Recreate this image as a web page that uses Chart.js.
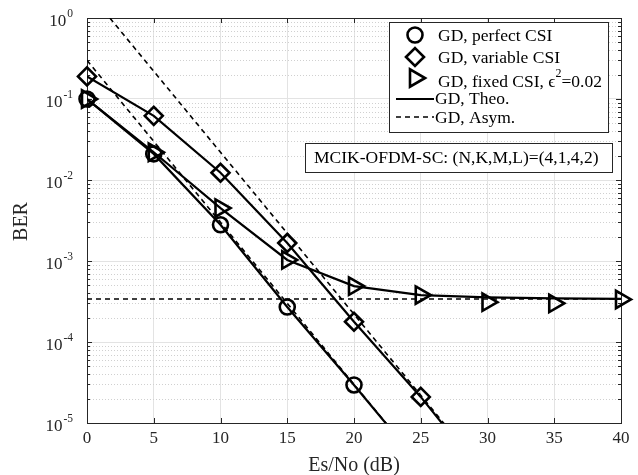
<!DOCTYPE html>
<html>
<head>
<meta charset="utf-8">
<script src="https://cdn.jsdelivr.net/npm/chart.js@4.4.1/dist/chart.umd.min.js"></script>
<style>
  html, body { margin: 0; padding: 0; background: #fff; }
  canvas { display: block; }
</style>
</head>
<body>
<canvas id="berChart" width="638" height="475"></canvas>
<script>
// Es/No points (dB)
const snrDb = [0, 5, 10, 15, 20, 25, 30, 35, 40];
const xTicks = [0, 5, 10, 15, 20, 25, 30, 35, 40];
const yTicks = [1e-5, 1e-4, 1e-3, 1e-2, 1e-1, 1];
const yExp = ['-5', '-4', '-3', '-2', '-1', '0'];

// simulation markers
const perfectSim = [0.1, 0.021, 2.8e-3, 2.7e-4, 2.95e-5];
const variableSim = [0.19, 0.062, 0.0123, 1.67e-3, 1.78e-4, 2.1e-5];
const fixedSim = [0.1, 0.022, 4.5e-3, 1.03e-3, 4.9e-4, 3.8e-4, 3.1e-4, 3.0e-4, 3.35e-4];

// theory curves
const perfectTheo = [0.1, 0.021, 2.8e-3, 2.7e-4, 2.95e-5, 3e-6];
const variableTheo = [0.19, 0.062, 0.0123, 1.67e-3, 1.78e-4, 2.1e-5, 2e-6];
const fixedTheo = [0.1, 0.022, 4.5e-3, 1.03e-3, 4.9e-4, 3.8e-4, 3.55e-4, 3.45e-4, 3.4e-4];

// asymptotes
const perfectAsym = [0.3, 0.03, 3e-3, 3e-4, 3e-5, 3e-6];
const variableAsym = [2.2, 0.22, 0.022, 2.2e-3, 2.2e-4, 2.2e-5, 2.2e-6];
const fixedAsym = [3.4e-4, 3.4e-4, 3.4e-4, 3.4e-4, 3.4e-4, 3.4e-4, 3.4e-4, 3.4e-4, 3.4e-4];

const FONT = '"Liberation Serif", "Times New Roman", serif';
const TXT = '#262626';

const pts = vals => vals.map((v, i) => ({x: snrDb[i], y: v}));

const theo = (data) => ({data: pts(data), borderColor: '#000', borderWidth: 2.2, pointRadius: 0, tension: 0, fill: false});
const asym = (data) => ({data: pts(data), borderColor: '#000', borderWidth: 1.6, borderDash: [5, 4], pointRadius: 0, tension: 0, fill: false});
const sim = (data, style, r, rot) => ({
	data: pts(data), showLine: false, clip: false,
	pointStyle: style, pointRadius: r, pointRotation: rot || 0,
	pointBorderWidth: 2.6, pointBorderColor: '#000', pointBackgroundColor: 'rgba(0,0,0,0)'
});

const markers = [
	{label: 'GD, perfect CSI', style: 'circle', r: 7.5, rot: 0, y: 35},
	{label: 'GD, variable CSI', style: 'rectRot', r: 9, rot: 0, y: 57},
	{label: 'GD, fixed CSI, ', style: 'triangle', r: 10, rot: 90, y: 78}
];

const decor = {
	id: 'decor',
	beforeDatasetsDraw(chart) {
		const {ctx, chartArea: a, scales: {x, y}} = chart;
		ctx.save();
		// dotted minor grid
		ctx.strokeStyle = '#d0d0d0';
		ctx.lineWidth = 1;
		ctx.setLineDash([1, 2]);
		for (let k = -5; k < 0; k++) {
			for (let m = 2; m <= 9; m++) {
				const py = Math.round(y.getPixelForValue(m * Math.pow(10, k))) + 0.5;
				ctx.beginPath(); ctx.moveTo(a.left, py); ctx.lineTo(a.right, py); ctx.stroke();
			}
		}
		ctx.setLineDash([]);
		// axes box + ticks
		ctx.strokeStyle = TXT;
		ctx.lineWidth = 1;
		ctx.strokeRect(a.left + 0.5, a.top + 0.5, a.right - a.left, a.bottom - a.top);
		ctx.beginPath();
		xTicks.forEach(v => {
			const px = Math.round(x.getPixelForValue(v)) + 0.5;
			ctx.moveTo(px, a.bottom); ctx.lineTo(px, a.bottom - 5);
			ctx.moveTo(px, a.top); ctx.lineTo(px, a.top + 5);
		});
		for (let k = -5; k <= 0; k++) {
			for (let m = 1; m <= 9; m++) {
				if (k === 0 && m > 1) break;
				const py = Math.round(y.getPixelForValue(m * Math.pow(10, k))) + 0.5;
				const len = m === 1 ? 5 : 3;
				ctx.moveTo(a.left, py); ctx.lineTo(a.left + len, py);
				ctx.moveTo(a.right, py); ctx.lineTo(a.right - len, py);
			}
		}
		ctx.stroke();
		ctx.restore();
	},
	afterDatasetsDraw(chart) {
		const {ctx, chartArea: a, scales: {x, y}} = chart;
		ctx.save();
		ctx.fillStyle = TXT;
		// x tick labels
		ctx.font = '17px ' + FONT;
		ctx.textAlign = 'center';
		ctx.textBaseline = 'middle';
		xTicks.forEach(v => ctx.fillText(String(v), x.getPixelForValue(v), 439));
		// y tick labels 10^k
		yTicks.forEach((v, i) => {
			const py = y.getPixelForValue(v);
			ctx.font = '11.5px ' + FONT;
			const ew = ctx.measureText(yExp[i]).width;
			ctx.textAlign = 'right';
			ctx.fillText(yExp[i], 73, py - 4);
			ctx.font = '17px ' + FONT;
			ctx.fillText('10', 73 - ew - 1, py + 3.5);
		});
		// axis titles
		ctx.font = '20px ' + FONT;
		ctx.textAlign = 'center';
		ctx.fillText('Es/No (dB)', (a.left + a.right) / 2, 466);
		ctx.save();
		ctx.translate(22, (a.top + a.bottom) / 2 + 1);
		ctx.rotate(-Math.PI / 2);
		ctx.fillText('BER', 0, 0);
		ctx.restore();

		// legend
		ctx.fillStyle = '#fff';
		ctx.fillRect(389, 22, 219, 110);
		ctx.strokeStyle = TXT;
		ctx.lineWidth = 1;
		ctx.strokeRect(389.5, 22.5, 219, 110);
		ctx.strokeStyle = '#000';
		ctx.lineWidth = 2.6;
		ctx.fillStyle = 'rgba(0,0,0,0)';
		markers.forEach(mk => {
			Chart.helpers.drawPoint(ctx, {pointStyle: mk.style, radius: mk.r, rotation: mk.rot, borderWidth: 2.6}, 415, mk.y);
		});
		ctx.lineWidth = 2.2;
		ctx.beginPath(); ctx.moveTo(396, 99); ctx.lineTo(434, 99); ctx.stroke();
		ctx.lineWidth = 1.6;
		ctx.setLineDash([5, 4]);
		ctx.beginPath(); ctx.moveTo(396, 117); ctx.lineTo(434, 117); ctx.stroke();
		ctx.setLineDash([]);
		ctx.fillStyle = '#000';
		ctx.font = '17.5px ' + FONT;
		ctx.textAlign = 'left';
		ctx.textBaseline = 'middle';
		ctx.fillText(markers[0].label, 438, 36);
		ctx.fillText(markers[1].label, 438, 58);
		let tx = 438;
		const ty = 82;
		ctx.fillText(markers[2].label, tx, ty);
		tx += ctx.measureText(markers[2].label).width;
		ctx.fillText('\u03F5', tx, ty);
		tx += ctx.measureText('\u03F5').width;
		ctx.font = '12px ' + FONT;
		ctx.fillText('2', tx, ty - 8);
		tx += ctx.measureText('2').width;
		ctx.font = '17.5px ' + FONT;
		ctx.fillText('=0.02', tx, ty);
		ctx.fillText('GD, Theo.', 435, 99);
		ctx.fillText('GD, Asym.', 435, 118);

		// parameter box
		ctx.fillStyle = '#fff';
		ctx.fillRect(305, 143, 307, 29);
		ctx.strokeStyle = TXT;
		ctx.lineWidth = 1;
		ctx.strokeRect(305.5, 143.5, 307, 29);
		ctx.fillStyle = '#000';
		ctx.fillText('MCIK-OFDM-SC: (N,K,M,L)=(4,1,4,2)', 314, 158);
		ctx.restore();
	}
};

new Chart(document.getElementById('berChart').getContext('2d'), {
	type: 'line',
	data: {
		datasets: [
			theo(perfectTheo),
			theo(variableTheo),
			theo(fixedTheo),
			asym(perfectAsym),
			asym(variableAsym),
			asym(fixedAsym),
			sim(perfectSim, 'circle', 7.5),
			sim(variableSim, 'rectRot', 9),
			sim(fixedSim, 'triangle', 10, 90)
		]
	},
	options: {
		responsive: false,
		animation: false,
		devicePixelRatio: 1,
		layout: {padding: {left: 87, right: 17, top: 18, bottom: 52}},
		plugins: {legend: {display: false}, tooltip: {enabled: false}},
		scales: {
			x: {
				type: 'linear', min: 0, max: 40,
				afterBuildTicks: s => { s.ticks = xTicks.map(v => ({value: v})); },
				afterFit: s => { s.height = 0; },
				grid: {color: '#e3e3e3', lineWidth: 1, drawTicks: false},
				border: {display: false},
				ticks: {display: false}
			},
			y: {
				type: 'logarithmic', min: 1e-5, max: 1,
				afterBuildTicks: s => { s.ticks = yTicks.map(v => ({value: v})); },
				afterFit: s => { s.width = 0; },
				grid: {color: '#e3e3e3', lineWidth: 1, drawTicks: false},
				border: {display: false},
				ticks: {display: false}
			}
		}
	},
	plugins: [decor]
});
</script>
</body>
</html>
